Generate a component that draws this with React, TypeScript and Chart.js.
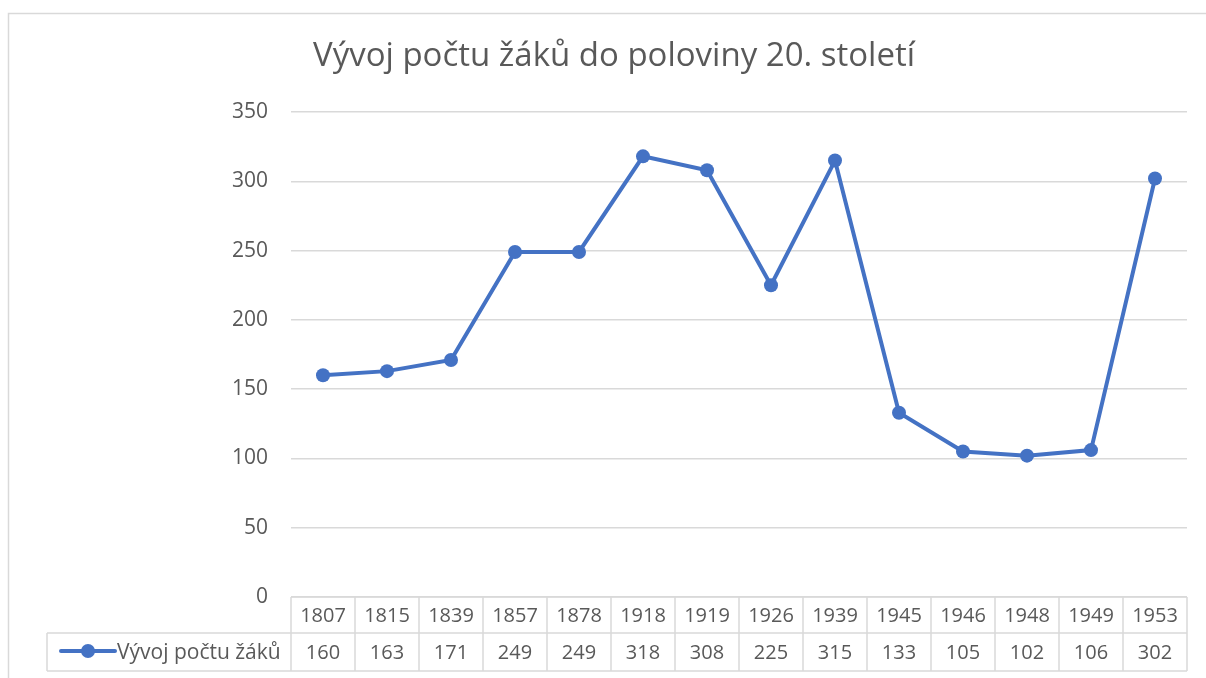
import React, { useEffect, useRef } from 'react';
import { Chart, registerables } from 'chart.js';

Chart.register(...registerables);

const chartTitle = 'Vývoj počtu žáků do poloviny 20. století';
const seriesName = 'Vývoj počtu žáků';
const years = ['1807', '1815', '1839', '1857', '1878', '1918', '1919', '1926', '1939', '1945', '1946', '1948', '1949', '1953'];
const pupils = [160, 163, 171, 249, 249, 318, 308, 225, 315, 133, 105, 102, 106, 302];
const yMin = 0;
const yMax = 350;
const yStep = 50;

const FONT = '"Open Sans", "Noto Sans", sans-serif';
const TEXT = '#595959';
const GRID = '#d9d9d9';
const BLUE = '#4472C4';

const excelPlugin = {
  id: 'excelPlugin',
  beforeDraw(chart: any) {
    const ctx = chart.ctx;
    ctx.save();
    ctx.fillStyle = '#ffffff';
    ctx.fillRect(0, 0, chart.width, chart.height);
    // outer frame
    ctx.strokeStyle = GRID;
    ctx.lineWidth = 1.5;
    ctx.beginPath();
    ctx.moveTo(8.5, chart.height);
    ctx.lineTo(8.5, 13.5);
    ctx.lineTo(chart.width, 13.5);
    ctx.stroke();
    // title
    ctx.fillStyle = TEXT;
    ctx.font = `33px ${FONT}`;
    ctx.textAlign = 'center';
    ctx.textBaseline = 'alphabetic';
    ctx.fillText(chartTitle, 614, 66);
    ctx.restore();
  },
  afterDraw(chart: any) {
    const ctx = chart.ctx;
    const xs = chart.scales.x;
    const area = chart.chartArea;
    const n = years.length;
    const w = (area.right - area.left) / n;
    const r1Top = area.bottom;
    const r1Bot = area.bottom + 36;
    const r2Bot = area.bottom + 74;
    const legendLeft = 47;
    ctx.save();
    ctx.strokeStyle = GRID;
    ctx.lineWidth = 1.5;
    ctx.beginPath();
    ctx.moveTo(area.left, r1Top);
    ctx.lineTo(area.right, r1Top);
    ctx.moveTo(legendLeft, r1Bot);
    ctx.lineTo(area.right, r1Bot);
    ctx.moveTo(legendLeft, r2Bot);
    ctx.lineTo(area.right, r2Bot);
    ctx.moveTo(legendLeft, r1Bot);
    ctx.lineTo(legendLeft, r2Bot);
    for (let i = 0; i <= n; i++) {
      const x = i === n ? area.right : xs.getPixelForValue(i) - w / 2;
      ctx.moveTo(x, r1Top);
      ctx.lineTo(x, r2Bot);
    }
    ctx.stroke();

    ctx.fillStyle = TEXT;
    ctx.font = `20px ${FONT}`;
    ctx.textAlign = 'center';
    ctx.textBaseline = 'middle';
    years.forEach((y, i) => {
      const cx = xs.getPixelForValue(i);
      ctx.fillText(y, cx, (r1Top + r1Bot) / 2 + 1);
      ctx.fillText(String(pupils[i]), cx, (r1Bot + r2Bot) / 2 + 1);
    });

    // legend key
    const ly = (r1Bot + r2Bot) / 2 - 1;
    ctx.strokeStyle = BLUE;
    ctx.lineWidth = 4;
    ctx.lineCap = 'round';
    ctx.beginPath();
    ctx.moveTo(61, ly);
    ctx.lineTo(115, ly);
    ctx.stroke();
    ctx.fillStyle = BLUE;
    ctx.beginPath();
    ctx.arc(88, ly, 7, 0, Math.PI * 2);
    ctx.fill();
    ctx.fillStyle = TEXT;
    ctx.font = `21px ${FONT}`;
    ctx.textAlign = 'left';
    ctx.fillText(seriesName, 117, ly + 2);
    ctx.restore();
  },
};

export default function App() {
  const ref = useRef<HTMLCanvasElement>(null);
  useEffect(() => {
    if (!ref.current) return;
    const chart = new Chart(ref.current, {
      type: 'line',
      data: {
        labels: years,
        datasets: [
          {
            label: seriesName,
            data: pupils,
            borderColor: BLUE,
            backgroundColor: BLUE,
            borderWidth: 4,
            pointRadius: 7,
            pointBackgroundColor: BLUE,
            pointBorderColor: BLUE,
            pointBorderWidth: 0,
            tension: 0,
          },
        ],
      },
      options: {
        responsive: false,
        animation: false,
        events: [],
        layout: { padding: { top: 112, bottom: 81, left: 41, right: 19 } },
        plugins: {
          legend: { display: false },
          title: { display: false },
          tooltip: { enabled: false },
        },
        scales: {
          x: {
            display: false,
            offset: true,
          },
          y: {
            min: yMin,
            max: yMax,
            ticks: {
              stepSize: yStep,
              color: TEXT,
              font: { family: FONT, size: 21 },
              padding: 23,
            },
            grid: { color: GRID, lineWidth: 1.5, drawTicks: false },
            border: { display: false },
            afterFit(scale: any) {
              scale.width = 250;
            },
          },
        },
      },
      plugins: [excelPlugin],
    });
    return () => chart.destroy();
  }, []);
  return (
    <div style={{ position: 'fixed', left: 0, top: 0, width: 1206, height: 678 }}>
      <canvas ref={ref} width={1206} height={678} style={{ display: 'block' }} />
    </div>
  );
}
